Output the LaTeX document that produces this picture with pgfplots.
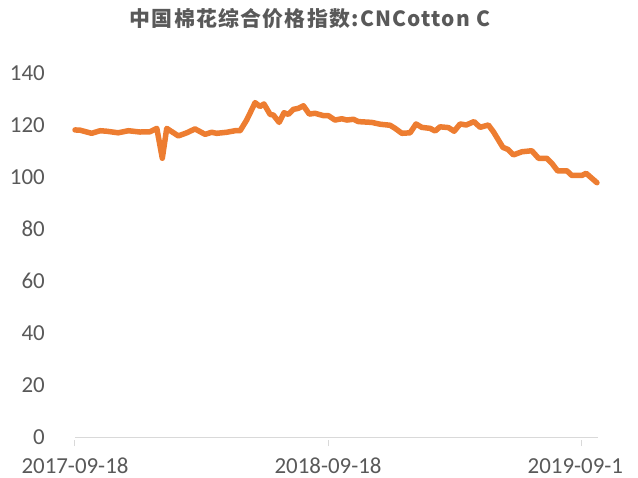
\documentclass[border=0pt]{standalone}
\usepackage{fontspec}
\setmainfont{Carlito}
\newfontfamily\cjk{Noto Sans CJK SC}[LetterSpace=6]
\usepackage{pgfplots}
\pgfplotsset{compat=1.18}
\definecolor{lineor}{RGB}{237,125,49}
\definecolor{txtgray}{RGB}{89,89,89}
\definecolor{axgray}{RGB}{217,217,217}
\begin{document}
\begin{tikzpicture}
\useasboundingbox (-75bp,-41bp) rectangle (563bp,437bp);
\begin{axis}[
  scale only axis,
  width=523bp, height=364bp,
  xmin=0, xmax=24.8,
  ymin=0, ymax=140,
  axis x line*=bottom,
  axis y line*=left,
  x axis line style={draw=axgray, line width=1bp},
  y axis line style={draw=none},
  xtick={0,12,24},
  xticklabels={2017-09-18,2018-09-18,2019-09-1\phantom{8}},
  ytick={0,20,40,60,80,100,120,140},
  major tick length=6bp,
  xtick style={draw=axgray, line width=1bp, yshift=-3bp},
  ytick style={draw=none},
  tick align=outside,
  /pgf/number format/assume math mode=true,
  tick label style={font=\fontsize{23}{27}\selectfont, text=txtgray},
  x tick label style={anchor=base, inner sep=0pt, yshift=-30bp},
  y tick label style={anchor=east, inner sep=0pt, xshift=-24bp},
  clip=false,
]
\addplot[lineor, line width=5.5bp, line join=round, line cap=round, mark=none] coordinates {
(0.00,118.1) (0.24,118.0) (0.79,116.8) (1.19,117.8) (1.50,117.6) (2.05,117.0)
(2.53,117.8) (3.08,117.3) (3.56,117.4) (3.88,118.7) (4.14,107.2) (4.35,118.7)
(4.90,115.8) (5.30,117.0) (5.69,118.5) (6.17,116.4) (6.48,117.2) (6.72,116.8)
(7.19,117.2) (7.59,117.8) (7.83,117.8) (8.14,121.9) (8.54,128.6) (8.77,127.1)
(8.96,128.1) (9.25,124.1) (9.41,123.8) (9.68,121.0) (9.91,124.7) (10.12,124.1)
(10.35,126.0) (10.59,126.4) (10.83,127.4) (11.11,124.2) (11.38,124.5) (11.78,123.6)
(12.01,123.6) (12.33,121.9) (12.65,122.4) (12.89,121.9) (13.20,122.2) (13.44,121.3)
(14.07,121.0) (14.47,120.3) (14.94,119.9) (15.18,118.7) (15.50,116.8) (15.89,117.0)
(16.17,120.4) (16.44,119.1) (16.84,118.7) (17.08,117.7) (17.31,119.3) (17.71,119.0)
(17.98,117.6) (18.26,120.4) (18.55,120.0) (18.92,121.3) (19.21,119.1) (19.60,120.0)
(19.84,117.4) (20.29,111.4) (20.53,110.6) (20.79,108.5) (21.19,109.7) (21.66,110.1)
(21.98,107.2) (22.37,107.2) (22.61,105.3) (22.88,102.4) (23.32,102.4) (23.56,100.6)
(24.03,100.6) (24.24,101.4) (24.75,97.8)
};
\end{axis}
\node[anchor=base, text=txtgray, inner sep=0pt] at (235bp,410bp)
  {\cjk\bfseries\fontsize{21}{24}\selectfont 中国棉花综合价格指数:CNCotton C};
\end{tikzpicture}
\end{document}
